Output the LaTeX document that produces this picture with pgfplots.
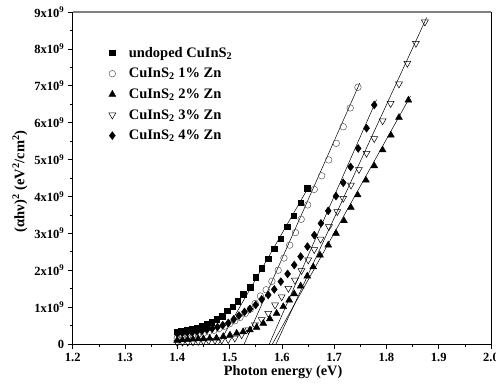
\documentclass[border=0pt]{standalone}
\usepackage{fontspec}
\setmainfont{Liberation Serif}
\usepackage{pgfplots}
\pgfplotsset{compat=1.18}
\newcommand{\tf}{\bfseries\fontsize{12.5}{14}\selectfont}
\begin{document}
\begin{tikzpicture}
\begin{axis}[
  scale only axis, width=418.3pt, height=332pt,
  xmin=1.2, xmax=2.0, ymin=0, ymax=9,
  xtick={1.2,1.3,1.4,1.5,1.6,1.7,1.8,1.9,2.0},
  xticklabels={1.2,1.3,1.4,1.5,1.6,1.7,1.8,1.9,2.0},
  minor x tick num=1,
  ytick={0,1,2,3,4,5,6,7,8,9},
  yticklabels={0,1x10\textsuperscript{9},2x10\textsuperscript{9},3x10\textsuperscript{9},4x10\textsuperscript{9},5x10\textsuperscript{9},6x10\textsuperscript{9},7x10\textsuperscript{9},8x10\textsuperscript{9},9x10\textsuperscript{9}},
  minor y tick num=1,
  xtick pos=bottom, ytick pos=left,
  tick align=outside,
  major tick length=5pt, minor tick length=3pt,
  tick style={black, line width=0.6pt},
  axis line style={black, line width=0.7pt},
  tick label style={font=\tf},
  xticklabel style={yshift=-1pt},
  xlabel={Photon energy (eV)},
  ylabel={(αhν)\textsuperscript{2} (eV\textsuperscript{2}/cm\textsuperscript{2})},
  xlabel style={font=\bfseries\fontsize{14.3}{16}\selectfont, at={(axis description cs:0.503,-0.085)}, anchor=center},
  ylabel style={font=\bfseries\fontsize{14.5}{16}\selectfont, at={(axis description cs:-0.126,0.49)}, anchor=center},
  legend style={draw=none, fill=none, font=\bfseries\fontsize{14.5}{16}\selectfont,
    at={(axis description cs:0.086,0.898)}, anchor=north west, row sep=7.5pt,
    inner sep=0pt, nodes={inner xsep=1pt, inner ysep=1pt},
    /tikz/every odd column/.append style={column sep=12pt}},
  legend cell align=left,
  clip=false,
]
\coordinate (O) at (rel axis cs:0,0);
\draw[gray, line width=1.2pt] (rel axis cs:0,1) -- (rel axis cs:1,1);
% fit lines
\addplot[black, line width=0.5pt, forget plot] coordinates {(1.479,0) (1.653,4.30)};
\addplot[black, line width=0.5pt, forget plot] coordinates {(1.528,0) (1.749,7.07)};
\addplot[black, line width=0.5pt, forget plot] coordinates {(1.582,0) (1.846,6.72)};
\addplot[black, line width=0.5pt, forget plot] coordinates {(1.589,0) (1.877,8.85)};
\addplot[black, line width=0.5pt, forget plot] coordinates {(1.576,0) (1.781,6.62)};
% undoped
\addplot[only marks, mark=square*, mark size=2.8pt, black] coordinates {
(1.400,0.33) (1.408,0.36) (1.418,0.39) (1.4275,0.41) (1.437,0.44) (1.4467,0.48)
(1.456,0.53) (1.4658,0.59) (1.4753,0.67) (1.486,0.76) (1.4956,0.90) (1.5059,1.01)
(1.5155,1.165) (1.5256,1.355) (1.539,1.54) (1.5499,1.81) (1.5614,2.05) (1.5734,2.31)
(1.5855,2.58) (1.598,2.85) (1.610,3.18) (1.6226,3.48) (1.636,3.83) (1.6486,4.22)};
\addlegendentry{undoped CuInS\textsubscript{2}}
% 1%
\addplot[only marks, mark=o, mark size=3.3pt, draw=black!65, mark options={line width=0.5pt}] coordinates {
(1.400,0.17) (1.410,0.19) (1.420,0.21) (1.430,0.23) (1.440,0.26) (1.450,0.29)
(1.460,0.33) (1.470,0.37) (1.480,0.42) (1.490,0.48) (1.500,0.55) (1.510,0.63)
(1.520,0.72) (1.530,0.83) (1.540,0.95) (1.549,1.10) (1.559,1.30) (1.570,1.47)
(1.581,1.70) (1.593,2.00) (1.604,2.33) (1.615,2.68) (1.626,3.02) (1.637,3.38)
(1.6493,3.77) (1.662,4.19) (1.6761,4.56) (1.6895,4.99) (1.704,5.44) (1.7174,5.89)
(1.7308,6.40) (1.7455,6.96)};
\addlegendentry{CuInS\textsubscript{2} 1\% Zn}
% 2%
\addplot[only marks, mark=triangle*, mark size=4pt, black] coordinates {
(1.400,0.10) (1.410,0.11) (1.420,0.12) (1.430,0.13) (1.440,0.14) (1.450,0.14)
(1.462,0.15) (1.475,0.16) (1.488,0.20) (1.5008,0.24) (1.5136,0.29) (1.526,0.33)
(1.539,0.38) (1.5518,0.45) (1.5645,0.56) (1.577,0.68) (1.590,0.83) (1.6027,1.01)
(1.614,1.19) (1.6237,1.36) (1.636,1.57) (1.6486,1.84) (1.660,2.09) (1.6729,2.41)
(1.6887,2.68) (1.7035,3.00) (1.7188,3.34) (1.732,3.70) (1.745,4.04) (1.7608,4.44)
(1.7767,4.83) (1.7927,5.26) (1.8086,5.66) (1.824,6.14) (1.842,6.61)};
\addlegendentry{CuInS\textsubscript{2} 2\% Zn}
% 3%
\addplot[only marks, mark=triangle, mark size=4pt, black, mark options={rotate=180, fill=white, line width=0.5pt}] coordinates {
(1.400,0.04) (1.410,0.05) (1.420,0.05) (1.430,0.06) (1.440,0.07) (1.450,0.08)
(1.460,0.09) (1.472,0.10) (1.485,0.11) (1.4975,0.12) (1.510,0.16) (1.523,0.25)
(1.536,0.38) (1.5486,0.52) (1.5614,0.66) (1.574,0.83) (1.587,1.06) (1.5996,1.28)
(1.6125,1.51) (1.625,1.73) (1.6375,1.99) (1.6505,2.28) (1.662,2.56) (1.674,2.84)
(1.690,3.18) (1.706,3.59) (1.7174,3.95) (1.7322,4.31) (1.7474,4.73) (1.762,5.17)
(1.7767,5.57) (1.7927,6.05) (1.808,6.52) (1.824,7.05) (1.840,7.61) (1.8564,8.15)
(1.8736,8.73)};
\addlegendentry{CuInS\textsubscript{2} 3\% Zn}
% 4%
\addplot[only marks, mark=diamond*, mark size=4pt, black] coordinates {
(1.400,0.28) (1.4095,0.30) (1.419,0.31) (1.4285,0.32) (1.438,0.34) (1.4475,0.36)
(1.457,0.39) (1.467,0.42) (1.477,0.46) (1.487,0.51) (1.4975,0.57) (1.508,0.67)
(1.518,0.77) (1.5285,0.87) (1.539,0.95) (1.550,1.06) (1.5614,1.21) (1.574,1.33)
(1.5855,1.48) (1.598,1.69) (1.611,1.90) (1.6237,2.14) (1.636,2.37) (1.649,2.64)
(1.662,2.95) (1.6748,3.27) (1.6887,3.61) (1.7035,4.01) (1.7174,4.37) (1.7315,4.80)
(1.746,5.30) (1.762,5.85) (1.7767,6.48)};
\addlegendentry{CuInS\textsubscript{2} 4\% Zn}
\end{axis}
\pgfresetboundingbox
\path[use as bounding box] ([shift={(-72.7pt,-41pt)}]O) rectangle ([shift={(423.3pt,344pt)}]O);
\end{tikzpicture}
\end{document}
